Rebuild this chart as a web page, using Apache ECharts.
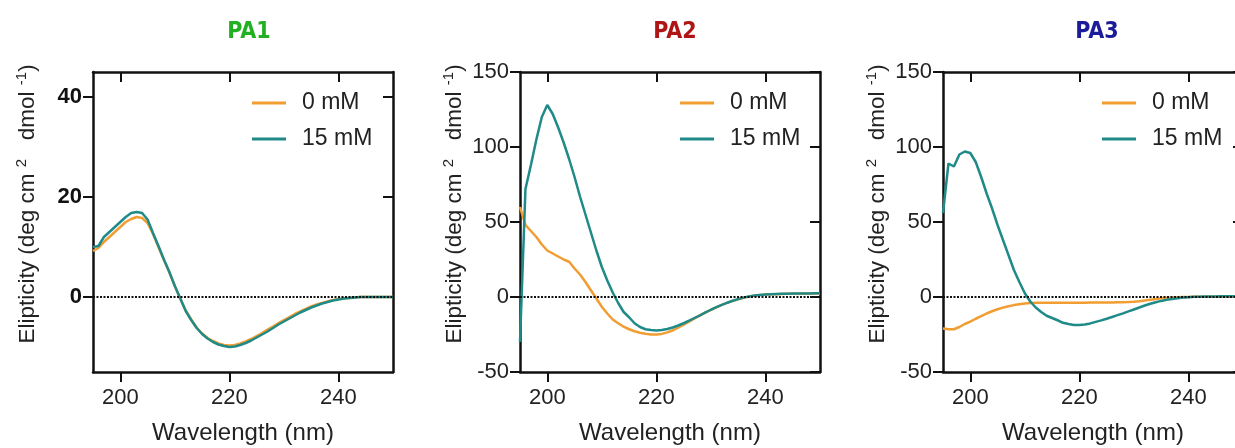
<!DOCTYPE html>
<html>
<head>
<meta charset="utf-8">
<script src="https://cdn.jsdelivr.net/npm/echarts@6/dist/echarts.min.js"></script>
<style>
html,body{margin:0;padding:0;background:#fff;}
#chart{width:1235px;height:448px;}
</style>
</head>
<body>
<div id="chart"></div>
<script>
// ---- data ----
const wavelength = [195,196,197,198,199,200,201,202,203,204,205,206,207,208,209,210,211,212,213,214,215,216,217,218,219,220,221,222,223,224,225,226,227,228,229,230,231,232,233,234,235,236,237,238,239,240,241,242,243,244,245,246,247,248,249,250];
const seriesNames = ['0 mM', '15 mM'];
const panelTitles = ['PA1', 'PA2', 'PA3'];
const xTicks = [200, 220, 240];
const pa1YTicks = [0, 20, 40];

const pa1_0mM = [9.2,9.8,11,12,13,14,15,15.6,16,15.8,14.8,12.6,10,7.4,4.9,2.2,-0.3,-2.7,-4.5,-6.1,-7.3,-8.2,-8.8,-9.3,-9.6,-9.7,-9.6,-9.3,-8.9,-8.4,-7.8,-7.2,-6.5,-5.9,-5.2,-4.6,-4,-3.4,-2.9,-2.4,-1.9,-1.5,-1.2,-0.9,-0.6,-0.4,-0.3,-0.2,-0.1,0,0,0,0,0,0,0];
const pa1_15mM = [10,10.2,12,13,14,15,16,16.8,17,16.8,15.5,12.8,10.2,7.5,5,2.2,-0.3,-2.8,-4.6,-6.2,-7.4,-8.3,-9,-9.5,-9.8,-10,-9.9,-9.6,-9.2,-8.7,-8.1,-7.5,-6.9,-6.2,-5.5,-4.9,-4.3,-3.7,-3.1,-2.6,-2.1,-1.7,-1.3,-1,-0.7,-0.5,-0.3,-0.2,-0.1,0,0,0,0,0,0,0];

const pa2_0mM = [60,48,44,40,35,31,29,27,25,23.5,19,15,10,4.5,-1,-6.5,-11,-15,-17.5,-19.8,-21.5,-22.8,-23.8,-24.5,-25,-25,-24.6,-23.6,-22.3,-20.5,-18.5,-16.4,-14.3,-12.3,-10.4,-8.6,-6.9,-5.3,-3.9,-2.6,-1.5,-0.5,0.3,0.9,1.3,1.6,1.8,1.9,2,2.1,2.2,2.2,2.3,2.3,2.4,2.4];
const pa2_15mM = [-30,72,88,105,120,128,122,113,103,92,80,67,55,43,31,20,11,3,-4,-10,-13.5,-17.5,-20,-21.5,-22,-22.3,-22,-21.3,-20.3,-19,-17.5,-15.8,-14,-12.2,-10.3,-8.5,-6.8,-5.2,-3.8,-2.5,-1.4,-0.4,0.4,1,1.4,1.7,1.9,2,2.1,2.2,2.3,2.3,2.4,2.4,2.5,2.5];

const pa3_0mM = [-21,-21.5,-21.5,-20,-18,-16.4,-14.5,-12.8,-11,-9.5,-8.2,-7.1,-6.2,-5.4,-4.8,-4.3,-4,-3.9,-3.9,-3.8,-3.8,-3.8,-3.8,-3.8,-3.8,-3.8,-3.8,-3.7,-3.7,-3.7,-3.6,-3.6,-3.5,-3.5,-3.4,-3.2,-2.8,-2.3,-1.8,-1.3,-0.9,-0.5,-0.3,-0.1,0,0,0.1,0.1,0.2,0.2,0.2,0.2,0.2,0.2,0.2,0.2];
const pa3_15mM = [56,89,87,95,97,96,90,80,69,59,48,38,28,18,10,2.5,-3,-7,-10,-12.5,-14,-15.5,-17.2,-18,-18.6,-18.7,-18.3,-17.6,-16.6,-15.6,-14.5,-13.3,-12.1,-10.9,-9.6,-8.3,-7,-5.7,-4.5,-3.5,-2.6,-1.9,-1.3,-0.8,-0.4,-0.1,0.1,0.2,0.3,0.4,0.4,0.5,0.5,0.5,0.5,0.5];

// ---- layout / style ----
const colors = ['#f19d31', '#1f8a88'];
const titleColors = ['#22b022', '#b01515', '#1c1c9a'];
const grids = [
  {left: 93, top: 72, width: 300, height: 300, outerBoundsMode: 'none', containLabel: false},
  {left: 520, top: 72, width: 300, height: 300, outerBoundsMode: 'none', containLabel: false},
  {left: 943, top: 72, width: 300, height: 300, outerBoundsMode: 'none', containLabel: false}
];
const titleX = [244, 670, 1092];
const legendPos = [[252, 91], [680, 91], [1102, 91]];
const FONT = "'Liberation Sans', Arial, sans-serif";
const NARROW = "'Liberation Sans Narrow', 'DejaVu Sans Condensed', 'Liberation Sans', sans-serif";

const panelData = [[pa1_0mM, pa1_15mM], [pa2_0mM, pa2_15mM], [pa3_0mM, pa3_15mM]];
const yRanges = [{min: -15, max: 45}, {min: -50, max: 150, interval: 50}, {min: -50, max: 150, interval: 50}];

const axisLine = {show: true, onZero: false, lineStyle: {color: '#111', width: 2.5}};
const yName = '{n|Elipticity (deg cm }{s|2}{n|   dmol }{s|-1}{n|)}';

const xAxes = [], yAxes = [], series = [], titles = [], legends = [];
grids.forEach((g, i) => {
  xAxes.push({
    type: 'value', gridIndex: i, position: 'bottom', min: 195, max: 250,
    axisLine: axisLine,
    axisTick: {show: true, inside: false, length: 10, lineStyle: {color: '#111', width: 2}, customValues: xTicks},
    axisLabel: {show: true, margin: 15, color: '#222', fontSize: 22, fontFamily: FONT, customValues: xTicks},
    splitLine: {show: false},
    name: 'Wavelength (nm)', nameLocation: 'middle', nameGap: 49,
    nameTextStyle: {fontSize: 24, color: '#222', fontFamily: FONT}
  });
  xAxes.push({
    type: 'value', gridIndex: i, position: 'top', min: 195, max: 250,
    axisLine: axisLine,
    axisTick: {show: true, inside: true, length: 10, lineStyle: {color: '#111', width: 2}, customValues: xTicks},
    axisLabel: {show: false},
    splitLine: {show: false}
  });
  const yr = yRanges[i];
  const leftY = {
    type: 'value', gridIndex: i, position: 'left', min: yr.min, max: yr.max,
    axisLine: axisLine,
    axisTick: {show: true, inside: false, length: 10, lineStyle: {color: '#111', width: 2}},
    axisLabel: {show: true, margin: 11, color: i === 0 ? '#111' : '#222', fontSize: 22, fontFamily: FONT, fontWeight: i === 0 ? 'bold' : 'normal'},
    splitLine: {show: false},
    name: yName, nameLocation: 'middle', nameGap: 52, nameRotate: 90,
    nameTextStyle: {
      padding: [0, 0, 0, 36],
      rich: {
        n: {fontSize: 22.5, color: '#222', fontFamily: FONT},
        s: {fontSize: 15, color: '#222', fontFamily: FONT, padding: [0, 0, 12, 0]}
      }
    }
  };
  const rightY = {
    type: 'value', gridIndex: i, position: 'right', min: yr.min, max: yr.max,
    axisLine: axisLine,
    axisTick: {show: true, inside: true, length: 10, lineStyle: {color: '#111', width: 2}},
    axisLabel: {show: false},
    splitLine: {show: false}
  };
  if (yr.interval) {
    leftY.interval = yr.interval; rightY.interval = yr.interval;
  } else {
    leftY.axisTick.customValues = pa1YTicks;
    leftY.axisLabel.customValues = pa1YTicks;
    rightY.axisTick.customValues = pa1YTicks;
  }
  yAxes.push(leftY, rightY);

  panelData[i].forEach((vals, k) => {
    const s = {
      type: 'line', name: seriesNames[k], xAxisIndex: i * 2, yAxisIndex: i * 2,
      data: wavelength.map((w, j) => [w, vals[j]]),
      showSymbol: false, symbol: 'none', clip: true,
      lineStyle: {color: colors[k], width: 2.5},
      itemStyle: {color: colors[k]},
      z: 3 + k
    };
    if (k === 0) {
      s.markLine = {
        silent: true, symbol: 'none', label: {show: false},
        lineStyle: {color: '#111', type: [2, 1.5], width: 2},
        data: [{yAxis: 0}]
      };
    }
    series.push(s);
  });

  titles.push({
    text: panelTitles[i], left: titleX[i], top: 16, textAlign: 'center',
    textStyle: {color: titleColors[i], fontSize: 23, fontWeight: 'bold', fontFamily: NARROW}
  });
  legends.push({
    orient: 'vertical', left: legendPos[i][0], top: legendPos[i][1], padding: 0,
    itemWidth: 34, itemHeight: 3, itemGap: 12, icon: 'rect',
    data: seriesNames,
    textStyle: {fontSize: 23, color: '#222', fontFamily: FONT, padding: [0, 0, 0, 11], lineHeight: 24}
  });
});

const chart = echarts.init(document.getElementById('chart'), null, {renderer: 'canvas'});
chart.setOption({
  animation: false,
  backgroundColor: '#fff',
  title: titles,
  legend: legends,
  grid: grids,
  xAxis: xAxes,
  yAxis: yAxes,
  series: series
});
</script>
</body>
</html>
